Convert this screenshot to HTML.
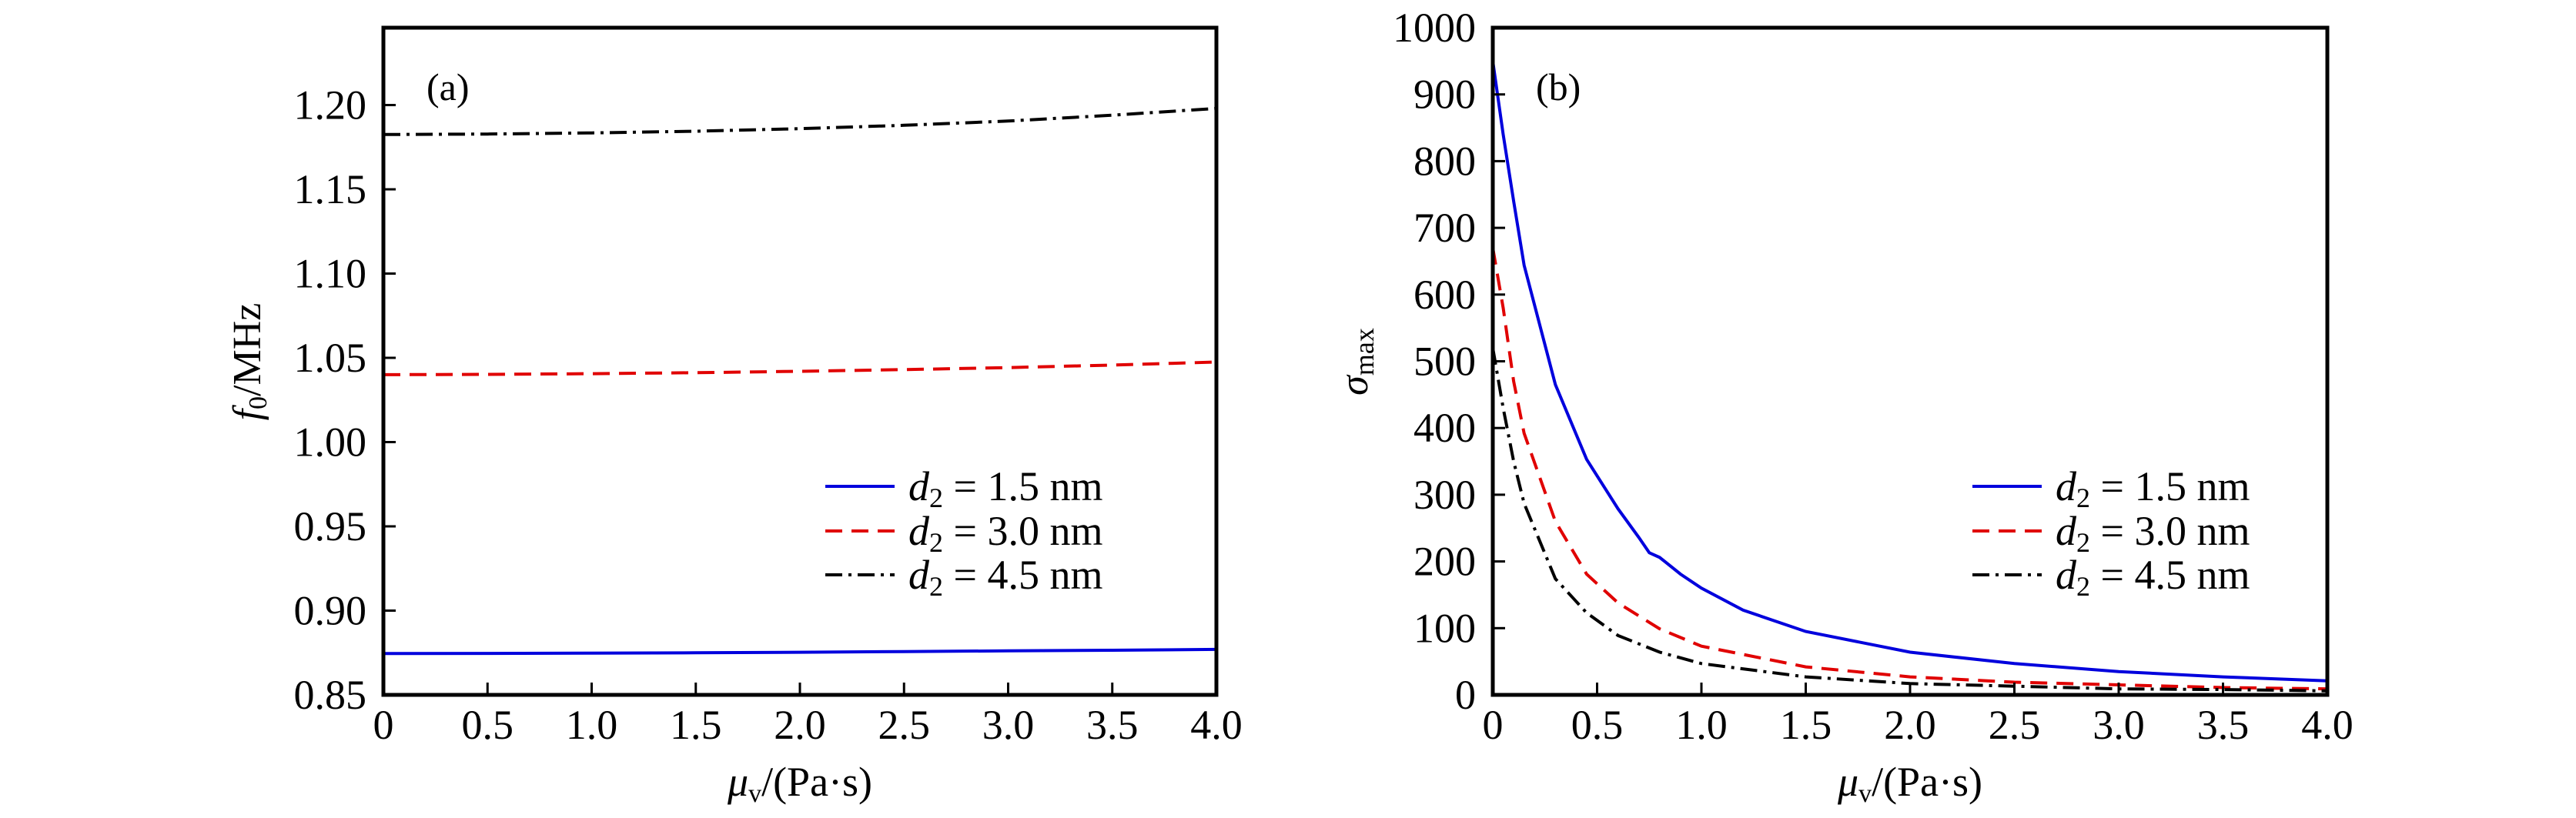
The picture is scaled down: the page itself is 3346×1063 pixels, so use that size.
<!DOCTYPE html>
<html><head><meta charset="utf-8"><style>
html,body{margin:0;padding:0;background:#fff}
svg{display:block}
svg text, svg tspan{font-family:"Liberation Serif","DejaVu Serif",serif;fill:#000}
</style></head><body>
<svg id="chart" width="3346" height="1063" viewBox="0 0 3346 1063" font-family="Liberation Serif, DejaVu Serif, serif" xmlns="http://www.w3.org/2000/svg"></svg>
<script>
const xTicks=[0,0.5,1.0,1.5,2.0,2.5,3.0,3.5,4.0];
const xTickLabels=["0","0.5","1.0","1.5","2.0","2.5","3.0","3.5","4.0"];
const aYTicks=[0.85,0.90,0.95,1.00,1.05,1.10,1.15,1.20];
const aYTickLabels=["0.85","0.90","0.95","1.00","1.05","1.10","1.15","1.20"];
const bYTicks=[0,100,200,300,400,500,600,700,800,900,1000];
const bYTickLabels=["0","100","200","300","400","500","600","700","800","900","1000"];
const aX=[0,0.5,1.0,1.5,2.0,2.5,3.0,3.5,4.0];
const aBlue=[0.8745,0.8746,0.8748,0.8750,0.8753,0.8757,0.8761,0.8765,0.8770];
const aRed=[1.0400,1.0402,1.0406,1.0412,1.0420,1.0430,1.0442,1.0457,1.0475];
const aBlack=[1.1825,1.1828,1.1835,1.1845,1.1860,1.1880,1.1905,1.1940,1.1980];
const bBlueX=[0,0.05,0.1,0.15,0.3,0.45,0.6,0.7,0.75,0.8,0.9,1.0,1.2,1.5,2.0,2.5,3.0,3.5,4.0];
const bBlue=[950,840,740,644,465,353,279,236,213,206,181,160,127,95,64,47,35,27,21];
const bRedX=[0,0.05,0.1,0.15,0.3,0.45,0.6,0.8,1.0,1.5,2.0,2.5,3.0,3.5,4.0];
const bRed=[670,580,470,392,260,181,138,99,73,42,27,19,15,11,9];
const bBlackX=[0,0.05,0.1,0.15,0.3,0.45,0.6,0.8,1.0,1.5,2.0,2.5,3.0,3.5,4.0];
const bBlack=[520,430,350,287,174,123,89,64,47,27,17,13,9,8,6];
const legendLabels=["1.5","3.0","4.5"];

const NS="http://www.w3.org/2000/svg";
const svg=document.getElementById('chart');
function mk(tag,attrs,parent){const e=document.createElementNS(NS,tag);for(const k in attrs)e.setAttribute(k,attrs[k]);(parent||svg).appendChild(e);return e;}
const styles=[{stroke:"#0000dd",dash:""},{stroke:"#e00000",dash:"22,12"},{stroke:"#000",dash:"22,8,4,8"}];
const FF="Liberation Serif, DejaVu Serif, serif";

function panel(cfg){
  const g=mk('g',{'font-family':FF});
  
  
  const L=cfg.L,R=cfg.R,T=36,B=903;
  const sx=v=>L+(v-0)/(4-0)*(R-L);
  const sy=v=>B-(v-cfg.ymin)/(cfg.ymax-cfg.ymin)*(B-T);
  cfg.series.forEach((s,i)=>{
    const d=s.x.map((xv,j)=>(j?'L':'M')+sx(xv).toFixed(1)+','+sy(s.y[j]).toFixed(1)).join(' ');
    const p=mk('path',{d:d,fill:'none',stroke:styles[i].stroke,'stroke-width':4,'stroke-dasharray':styles[i].dash},g);
    
    
  });
  const fr=mk('rect',{x:L,y:T,width:R-L,height:B-T,fill:'none',stroke:'#000','stroke-width':5},g);
  
  
  xTicks.forEach((t,i)=>{
    const x=sx(t);
    mk('line',{x1:x,y1:B,x2:x,y2:B-16,stroke:'#000','stroke-width':3},g);
    const tx=mk('text',{x:x,y:960,'font-size':54,'text-anchor':'middle','font-family':FF},g);
    tx.textContent=xTickLabels[i];
    
    
  });
  cfg.yt.forEach((t,i)=>{
    const y=sy(t);
    mk('line',{x1:L,y1:y,x2:L+16,y2:y,stroke:'#000','stroke-width':3},g);
    const tx=mk('text',{x:L-22,y:y+18,'font-size':54,'text-anchor':'end','font-family':FF},g);
    tx.textContent=cfg.ytl[i];
    
    
  });
  const lab=mk('text',{x:L+56,y:130,'font-size':50,'font-family':FF},g);
  lab.textContent=cfg.tag;
  
  
  const xt=mk('text',{x:(L+R)/2,y:1034,'font-size':54,'text-anchor':'middle','font-family':FF},g);
  xt.innerHTML='<tspan font-style="italic">μ</tspan><tspan font-size="34" dy="8">v</tspan><tspan dy="-8">/(Pa·s)</tspan>';
  
  
  const yt=mk('text',{x:0,y:0,'font-size':52,'text-anchor':'middle','font-family':FF,transform:'translate('+cfg.ytx+',470) rotate(-90)'},g);
  yt.innerHTML=cfg.ytitle;
  
  
  [632,690,747].forEach((y,i)=>{
    const le=mk('g',{},g);
    
    
    mk('line',{x1:cfg.lx,y1:y,x2:cfg.lx+90,y2:y,stroke:styles[i].stroke,'stroke-width':4,'stroke-dasharray':styles[i].dash},le);
    const t=mk('text',{x:cfg.lx+108,y:y+18,'font-size':54,'font-family':FF},le);
    t.innerHTML='<tspan font-style="italic">d</tspan><tspan font-size="36" dy="9">2</tspan><tspan dy="-9"> = '+legendLabels[i]+'  nm</tspan>';
  });
}
panel({name:'panel-a',L:498,R:1580,ymin:0.85,ymax:1.2459,yt:aYTicks,ytl:aYTickLabels,tag:'(a)',
  series:[{x:aX,y:aBlue},{x:aX,y:aRed},{x:aX,y:aBlack}],ytx:338,lx:1072,
  ytitle:'<tspan font-style="italic">f</tspan><tspan font-size="34" dy="8">0</tspan><tspan dy="-8">/MHz</tspan>'});
panel({name:'panel-b',L:1939,R:3023,ymin:0,ymax:1000,yt:bYTicks,ytl:bYTickLabels,tag:'(b)',
  series:[{x:bBlueX,y:bBlue},{x:bRedX,y:bRed},{x:bBlackX,y:bBlack}],ytx:1776,lx:2562,
  ytitle:'<tspan font-style="italic">σ</tspan><tspan font-size="36" dy="8">max</tspan>'});
</script>
</body></html>
